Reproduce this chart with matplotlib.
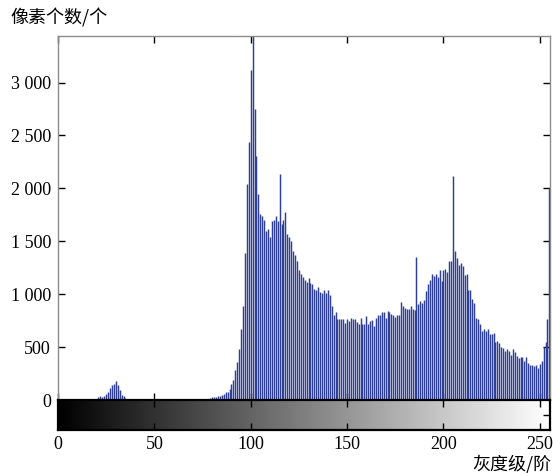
import numpy as np
import matplotlib
matplotlib.use("Agg")
import matplotlib.pyplot as plt

# ---- data: pixel counts per gray level (0..255) ----
gray_levels = np.arange(256)

bump_levels = [19, 20, 21, 22, 23, 24, 25, 26, 27, 28, 29, 30, 31, 32, 33, 34, 35, 36, 37]
bump_counts = [5, 12, 30, 35, 30, 40, 55, 80, 110, 140, 150, 180, 140, 90, 50, 35, 15, 8, 3]

main_start = 76
main_counts = [
    5, 8, 12, 15, 25, 30, 32, 35, 40, 50,            # 76-85
    60, 75, 80, 105, 150, 190, 280, 355, 480, 670,   # 86-95
    890, 1390, 2040, 2440, 3120, 3440, 2750, 2310, 1950, 1760,  # 96-105
    1740, 1700, 1600, 1620, 1545, 1690, 1700, 1735, 1690, 2140,  # 106-115
    1660, 1700, 1780, 1565, 1545, 1500, 1410, 1370, 1310, 1225,  # 116-125
    1190, 1165, 1135, 1115, 1150, 1110, 1100, 1050, 1040, 1065,  # 126-135
    1020, 1010, 1040, 1010, 1035, 995, 890, 805, 830, 765,       # 136-145
    765, 765, 770, 725, 770, 745, 775, 765, 765, 738,            # 146-155
    722, 773, 722, 716, 791, 716, 747, 754, 700, 779,            # 156-165
    804, 804, 830, 830, 773, 842, 833, 817, 804, 785,            # 166-175
    804, 804, 927, 889, 874, 858, 858, 889, 858, 848,            # 176-185
    1347, 905, 937, 921, 946, 1031, 1100, 1132, 1189, 1173,      # 186-195
    1192, 1167, 1233, 1129, 1233, 1240, 1214, 1318, 1318, 2113,  # 196-205
    1407, 1344, 1280, 1293, 1271, 1186, 1192, 1041, 1041, 956,   # 206-215
    921, 776, 763, 719, 656, 672, 650, 672, 624, 624,            # 216-225
    631, 546, 555, 536, 498, 492, 467, 483, 460, 429,            # 226-235
    479, 451, 419, 397, 404, 410, 372, 410, 347, 334,            # 236-245
    334, 325, 334, 303, 340, 372, 505, 545, 770, 2000,           # 246-255
]

counts = np.zeros(256)
counts[bump_levels] = bump_counts
counts[main_start:main_start + len(main_counts)] = main_counts

y_ticks = [0, 500, 1000, 1500, 2000, 2500, 3000]
y_tick_labels = ["0", "500", "1 000", "1 500", "2 000", "2 500", "3 000"]
x_ticks = [0, 50, 100, 150, 200, 250]
x_tick_labels = ["0", "50", "100", "150", "200", "250"]

y_label = "像素个数/个"
x_label = "灰度级/阶"

# ---- figure ----
W, H = 553, 473
fig = plt.figure(figsize=(W / 100, H / 100), dpi=100)

serif = ["Liberation Serif", "DejaVu Serif"]
cjk = ["Noto Sans CJK SC", "DejaVu Sans"]

left, right = 58 / W, 550 / W
top_px, base_px, cb_px = 36, 400, 430

ax = fig.add_axes([left, 1 - base_px / H, right - left, (base_px - top_px) / H])
cax = fig.add_axes([left, 1 - cb_px / H, right - left, (cb_px - base_px) / H])

bar_color = "#2f3f95"
ax.vlines(gray_levels, 0, counts, colors=bar_color, linewidth=1.05)
ax.set_xlim(0, 255.3)
ax.set_ylim(0, counts.max())

for s in ["left", "top", "right"]:
    ax.spines[s].set_color("#8c8c8c")
    ax.spines[s].set_linewidth(1.0)
ax.spines["bottom"].set_visible(False)

ax.set_yticks(y_ticks)
ax.set_yticklabels(y_tick_labels, fontfamily=serif, fontsize=13)
ax.set_xticks(x_ticks)
ax.set_xticklabels([])
ax.tick_params(axis="both", direction="in", length=5, width=1.0, color="black",
               top=True, right=True, bottom=True, left=True, pad=5)

# gray colorbar
grad = np.linspace(0, 1, 256).reshape(1, -1)
cax.imshow(grad, aspect="auto", cmap="gray", extent=[0, 255.3, 0, 1])
cax.set_xlim(0, 255.3)
cax.set_ylim(0, 1)
for s in cax.spines.values():
    s.set_color("black")
    s.set_linewidth(1.6)
cax.set_yticks([0.5])
cax.set_yticklabels([])
cax.set_xticks(x_ticks)
cax.set_xticklabels(x_tick_labels, fontfamily=serif, fontsize=13)
cax.tick_params(axis="both", direction="in", length=5, width=1.0, color="black",
                top=True, right=True, left=False, bottom=True, pad=4)

fig.text(10 / W, 1 - 18 / H, y_label, fontfamily=cjk, fontsize=13, va="center", ha="left")
fig.text(551 / W, 1 - 464 / H, x_label, fontfamily=cjk, fontsize=13, va="center", ha="right")

fig.savefig("out.png", dpi=100)
